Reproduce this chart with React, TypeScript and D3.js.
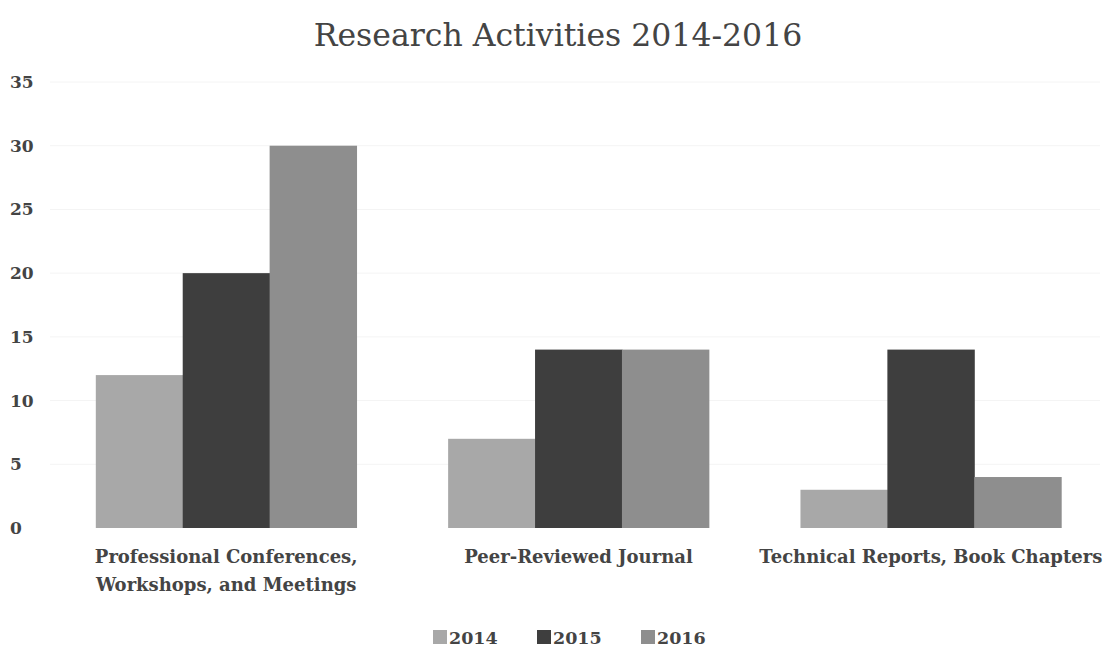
import React from 'react';
import * as d3 from 'd3';

const categories = [
  ['Professional Conferences,', 'Workshops, and Meetings'],
  ['Peer-Reviewed Journal'],
  ['Technical Reports, Book Chapters'],
];
const years = ['2014', '2015', '2016'];
const values2014 = [12, 7, 3];
const values2015 = [20, 14, 14];
const values2016 = [30, 14, 4];
const yTicks = [0, 5, 10, 15, 20, 25, 30, 35];

const colors = ['#a8a8a8', '#3e3e3e', '#8e8e8e'];
const W = 1105;
const H = 651;
const font = '"DejaVu Serif", serif';

const App: React.FC = () => {
  const series = [values2014, values2015, values2016];
  const x0 = d3.scaleBand<number>()
    .domain(d3.range(categories.length))
    .range([50, 1107])
    .paddingInner(0.26)
    .paddingOuter(0.13);
  const x1 = d3.scaleBand<number>()
    .domain(d3.range(years.length))
    .range([0, x0.bandwidth()])
    .paddingInner(0);
  const y = d3.scaleLinear().domain([0, 35]).range([528, 82]);

  return (
    <svg width={W} height={H} style={{ display: 'block', position: 'absolute', left: 0, top: 0 }}>
      <rect width={W} height={H} fill="#fff" />
      <text x={558} y={46} textAnchor="middle" fontFamily={font} fontSize={31.5} fill="#444">
        Research Activities 2014-2016
      </text>
      {yTicks.map(t => (
        <g key={t}>
          {t > 0 && (
            <line x1={50} x2={1100} y1={y(t)} y2={y(t)} stroke="#f4f4f4" strokeWidth={1} />
          )}
          <text x={10} y={y(t)} dy="0.35em" fontFamily={font} fontWeight="bold" fontSize={17} fill="#444">
            {t}
          </text>
        </g>
      ))}
      {categories.map((_, ci) => (
        <g key={ci} transform={`translate(${x0(ci)},0)`}>
          {series.map((vals, si) => (
            <rect
              key={si}
              x={x1(si)}
              y={y(vals[ci])}
              width={x1.bandwidth() + 0.5}
              height={y(0) - y(vals[ci])}
              fill={colors[si]}
            />
          ))}
        </g>
      ))}
      {categories.map((lines, ci) => {
        const cx = (x0(ci) as number) + x0.bandwidth() / 2;
        return (
          <text key={ci} textAnchor="middle" fontFamily={font} fontWeight="bold" fontSize={18} fill="#444">
            {lines.map((l, li) => (
              <tspan key={li} x={cx} y={563 + li * 28}>{l}</tspan>
            ))}
          </text>
        );
      })}
      {years.map((yr, i) => {
        const lx = 433 + i * 104;
        return (
          <g key={yr}>
            <rect x={lx} y={630} width={14} height={14} fill={colors[i]} />
            <text x={lx + 16} y={644} fontFamily={font} fontWeight="bold" fontSize={17.5} fill="#444">
              {yr}
            </text>
          </g>
        );
      })}
    </svg>
  );
};

export default App;
